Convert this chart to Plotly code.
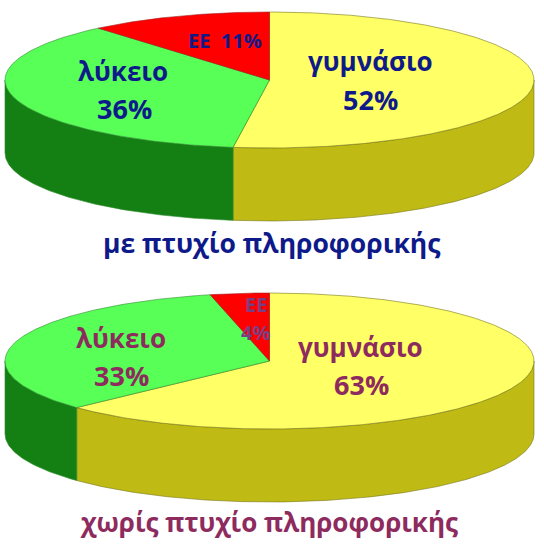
import numpy as np
import plotly.graph_objects as go

categories = ["γυμνάσιο", "λύκειο", "ΕΕ"]
values_with_degree = [52.2, 36.6, 11.2]
values_without_degree = [63.0, 33.4, 3.6]
labels_with_degree = ["52%", "36%", "11%"]
labels_without_degree = ["63%", "33%", "4%"]
title_with_degree = "με πτυχίο πληροφορικής"
title_without_degree = "χωρίς πτυχίο πληροφορικής"

top_colors = ["#FFFF66", "#57FF57", "#FF0000"]
wall_colors = ["#BFBA14", "#148014", "#A00000"]
edge_colors = ["#77771A", "#2E8B2E", "#A02020"]

BLUE = "#0E1A8A"
PURPLE = "#8E2B5E"
FONT = "Open Sans"

CX = 269.5
RX = 264.5
RY = 68
DEPTH = 73


def arc(cy, start, end):
    # angles in degrees, clockwise from twelve o'clock
    t = np.radians(np.linspace(start, end, max(int(abs(end - start)) * 2, 2)))
    return CX + RX * np.sin(t), cy - RY * np.cos(t)


def add_pie(fig, cy, values):
    """Draw one tilted pie: side walls first, then the top sectors."""
    shares = np.array(values) / sum(values) * 360
    ends = np.cumsum(shares)
    starts = ends - shares

    for start, end, wall, edge in zip(starts, ends, wall_colors, edge_colors):
        # only the front half of the cylinder can be seen
        a, b = max(start, 90), min(end, 270)
        if a >= b:
            continue
        x, y = arc(cy, a, b)
        xs = np.concatenate([x, x[::-1], x[:1]])
        ys = np.concatenate([y, y[::-1] + DEPTH, y[:1]])
        fig.add_trace(go.Scatter(x=xs, y=ys, mode="lines", fill="toself", fillcolor=wall,
                                 line=dict(color=edge, width=0.6)))

    for start, end, top, edge in zip(starts, ends, top_colors, edge_colors):
        x, y = arc(cy, start, end)
        xs = np.concatenate([[CX], x, [CX]])
        ys = np.concatenate([[cy], y, [cy]])
        fig.add_trace(go.Scatter(x=xs, y=ys, mode="lines", fill="toself", fillcolor=top,
                                 line=dict(color=edge, width=0.6)))


def add_text(fig, x, y, text, color, size):
    fig.add_annotation(x=x, y=y, text=text, showarrow=False, xanchor="center", yanchor="middle",
                       font=dict(family=FONT, size=size, color=color, weight=700))


fig = go.Figure()
add_pie(fig, 80, values_with_degree)
add_pie(fig, 361, values_without_degree)

# upper pie labels
add_text(fig, 370, 61, categories[0], BLUE, 26)
add_text(fig, 370, 99, labels_with_degree[0], BLUE, 27)
add_text(fig, 123, 71, categories[1], BLUE, 26)
add_text(fig, 124, 108, labels_with_degree[1], BLUE, 27)
add_text(fig, 224.5, 40, categories[2] + "  " + labels_with_degree[2], BLUE, 20)
add_text(fig, 271.5, 243, title_with_degree, BLUE, 26.5)

# lower pie labels
add_text(fig, 360, 347, categories[0], PURPLE, 26)
add_text(fig, 361, 384, labels_without_degree[0], PURPLE, 27)
add_text(fig, 121, 338, categories[1], PURPLE, 26)
add_text(fig, 121, 375, labels_without_degree[1], PURPLE, 27)
add_text(fig, 256, 304, categories[2], "#7A3F80", 20)
add_text(fig, 255, 332, labels_without_degree[2], "#7A3F80", 20)
add_text(fig, 269, 522, title_without_degree, PURPLE, 26)

fig.update_layout(
    width=544,
    height=545,
    margin=dict(l=0, r=0, t=0, b=0),
    paper_bgcolor="white",
    plot_bgcolor="white",
    showlegend=False,
    hovermode=False,
)
fig.update_xaxes(range=[0, 544], visible=False, fixedrange=True)
fig.update_yaxes(range=[545, 0], visible=False, fixedrange=True)

# the page's default body margin would push the plot 8px down and right
fig.write_html("out.html", config={"displayModeBar": False},
               post_script="document.body.style.margin='0';document.documentElement.style.overflow='hidden';")
